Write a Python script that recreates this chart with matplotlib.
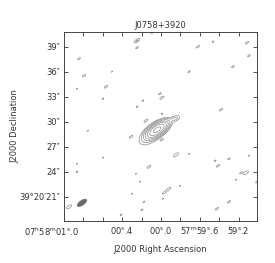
import numpy as np
import matplotlib
matplotlib.use("Agg")
import matplotlib.pyplot as plt
from matplotlib.patches import Ellipse
import matplotlib.transforms as mtransforms

# ---------------- data ----------------
title = "J0758+3920"
# RA offsets in seconds of time from 07h58m00s, Dec offsets in arcsec from +39d20'00"
ra_ticks_s = [1.0, 0.8, 0.6, 0.4, 0.2, 0.0, -0.2, -0.4, -0.6, -0.8]
ra_tick_labels = ["07$^{\\rm h}$58$^{\\rm m}$01$^{\\rm s}$.0", "", "", "00$^{\\rm s}$.4", "",
                  "00$^{\\rm s}$.0", "", "57$^{\\rm m}$59$^{\\rm s}$.6", "", "59$^{\\rm s}$.2"]
dec_ticks_as = [21, 24, 27, 30, 33, 36, 39]
dec_tick_labels = ["39°20′21″", "24″", "27″", "30″", "33″", "36″", "39″"]

# source components: RA offset (s), Dec offset ("), peak, sigma major ("), sigma minor ("), angle on sky (deg)
src_ra_s = [0.041, 0.10, -0.150]
src_dec_as = [29.04, 28.5, 30.40]
src_peak = [80.0, 3.0, 2.4]
src_smaj = [0.72, 1.1, 0.40]
src_smin = [0.32, 0.55, 0.22]
src_pa = [35.0, 40.0, 20.0]

# low-level noise features: RA offset (s), Dec offset ("), amplitude (in units of lowest level)
noise_ra_s = [0.247, 0.247, 0.0825, -0.381, -0.536, -0.887, 0.845, -0.907, -0.742, -0.289,
              0.794, 0.505, 0.567, 0.866, -0.010, 0.010, 0.186, 0.598, 0.247, -0.619,
              -0.010, 0.753, 0.309, -0.010, -0.155, -0.289, 0.598, 0.866, 0.124, -0.557,
              -0.701, -0.588, -0.907, -0.876, -0.825, 0.866, 0.258, 0.216, -0.99, -0.773,
              -0.082, -0.031, -0.196, 0.299, 0.175, -0.021, -0.701, -0.577, 0.196, 0.412,
              0.948, 0.155]
noise_dec_as = [39.72, 38.88, 40.8, 39.0, 39.6, 39.48, 37.56, 37.92, 36.6, 36.0,
                35.52, 36.0, 34.2, 33.96, 32.88, 33.36, 32.52, 32.76, 31.8, 31.44,
                30.96, 28.92, 28.2, 27.84, 26.04, 26.16, 25.68, 24.96, 24.6, 25.32,
                25.56, 24.72, 25.92, 23.88, 23.88, 24.0, 23.76, 22.8, 22.8, 23.04,
                21.96, 21.48, 22.32, 21.36, 20.4, 20.76, 20.4, 19.56, 19.44, 18.84,
                19.8, 30.12]
noise_amp = [2.2, 1.2, 1.6, 1.3, 1.1, 1.3, 1.2, 1.2, 1.2, 1.15,
             1.3, 1.05, 1.4, 1.05, 1.5, 1.2, 1.1, 1.1, 1.1, 1.3,
             1.05, 1.05, 1.3, 1.1, 1.9, 1.05, 1.05, 1.05, 1.4, 1.1,
             1.15, 1.3, 1.05, 1.8, 1.2, 1.1, 1.05, 1.05, 1.2, 1.05,
             1.4, 1.3, 1.05, 1.05, 1.1, 1.05, 1.3, 1.3, 1.1, 1.1,
             1.9, 1.4]

contour_levels = [1, 2, 4, 8, 16, 32, 64]

beam_ra_s = 0.814
beam_dec_as = 20.28
beam_maj = 1.3   # full width (")
beam_min = 0.55
beam_pa = 35.0

# ---------------- plot ----------------
sec2as = 15.0 * np.cos(np.radians(39 + 20 / 60 + 30 / 3600))

def gauss(X, Y, x0, y0, amp, smaj, smin, ang):
    # ang measured on screen (x axis is inverted: east to the left)
    t = np.radians(ang)
    dx, dy = -(X - x0), Y - y0
    u = dx * np.cos(t) + dy * np.sin(t)
    v = -dx * np.sin(t) + dy * np.cos(t)
    return amp * np.exp(-0.5 * ((u / smaj) ** 2 + (v / smin) ** 2))

xs = np.linspace(-12.5, 12.5, 700)
ys = np.linspace(17.0, 42.0, 700)
X, Y = np.meshgrid(xs, ys)
Z = np.zeros_like(X)
for r, d, p, a, b, ang in zip(src_ra_s, src_dec_as, src_peak, src_smaj, src_smin, src_pa):
    Z += gauss(X, Y, r * sec2as, d, p, a, b, ang)
for r, d, p in zip(noise_ra_s, noise_dec_as, noise_amp):
    Z += gauss(X, Y, r * sec2as, d, p, 0.32, 0.13, beam_pa)

fig = plt.figure(figsize=(2.75, 2.63), dpi=100)
ax = fig.add_axes([64 / 275, 1 - 221 / 263, 193 / 275, 189 / 263])

ax.contour(X, Y, Z, levels=contour_levels, colors="#8a8a8a", linewidths=0.5)
ax.add_patch(Ellipse((beam_ra_s * sec2as, beam_dec_as), beam_maj, beam_min,
                     angle=-beam_pa, facecolor="#6a6a6a", edgecolor="#6a6a6a", lw=0.5))

ax.set_xlim(1.0 * sec2as, -0.99 * sec2as)
ax.set_ylim(18.1, 40.76)

ax.set_xticks([v * sec2as for v in ra_ticks_s])
ax.set_xticklabels(ra_tick_labels)
ax.set_yticks(dec_ticks_as)
ax.set_yticklabels(dec_tick_labels)
ax.tick_params(direction="in", length=3, width=0.6, top=True, right=True,
               labelsize=6, colors="#333333", pad=3)
for sp in ax.spines.values():
    sp.set_color("#444444")
    sp.set_linewidth(0.7)

# first RA label shifted left as in original
lab0 = ax.get_xticklabels()[0]
lab0.set_transform(lab0.get_transform() + mtransforms.ScaledTranslation(-12.5 / 100, 0, fig.dpi_scale_trans))

ax.set_title(title, fontsize=6, color="#333333", pad=3)
ax.set_xlabel("J2000 Right Ascension", fontsize=6, color="#333333", labelpad=5)
ax.set_ylabel("J2000 Declination", fontsize=6, color="#333333")
ax.yaxis.set_label_coords(-0.232, 0.5)

fig.savefig("out.png", dpi=100)
